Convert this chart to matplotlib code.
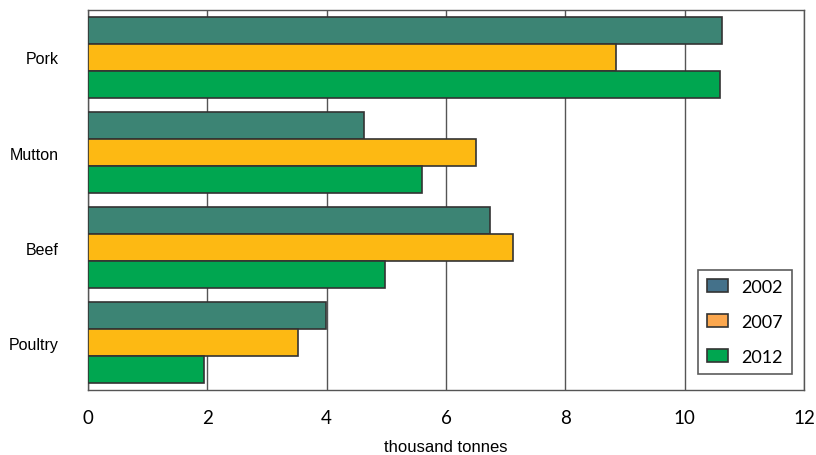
import matplotlib
matplotlib.use('Agg')
import matplotlib.pyplot as plt
import numpy as np
from matplotlib.patches import Patch

# data
categories = ['Pork', 'Mutton', 'Beef', 'Poultry']
years = ['2002', '2007', '2012']
values_2002 = [10.63, 4.63, 6.74, 3.99]
values_2007 = [8.85, 6.50, 7.12, 3.52]
values_2012 = [10.59, 5.60, 4.98, 1.94]
x_ticks = [0, 2, 4, 6, 8, 10, 12]

bar_colors = ['#3C8474', '#FDB913', '#00A650']
legend_colors = ['#44718A', '#FBA74E', '#00A650']

fig = plt.figure(figsize=(8.16, 4.56), dpi=100)
ax = fig.add_axes([0.1078, 0.1425, 0.8775, 0.8334])

pos = np.arange(len(categories))
h = 0.284
series = [values_2002, values_2007, values_2012]
for i, vals in enumerate(series):
    ax.barh(pos + (i - 1) * h, vals, height=h, color=bar_colors[i],
            edgecolor='#333333', linewidth=1.2, zorder=3)

ax.set_ylim(3.5, -0.5)
ax.set_xlim(0, 12)
ax.set_xticks(x_ticks)
ax.set_xticklabels([str(t) for t in x_ticks], family='Lato', fontsize=13.5)
ax.set_yticks(pos)
ax.set_yticklabels(categories, family='Liberation Sans', fontsize=11.5)
ax.tick_params(axis='both', length=0)
ax.tick_params(axis='y', pad=21)
ax.tick_params(axis='x', pad=14)

ax.grid(axis='x', color='#555555', linewidth=1.0, zorder=0)
for s in ax.spines.values():
    s.set_color('#555555')
    s.set_linewidth(1.0)

ax.set_xlabel('thousand tonnes', family='Liberation Sans', fontsize=12, labelpad=9)

handles = [Patch(facecolor=legend_colors[i], edgecolor='#333333', linewidth=1.2, label=years[i])
           for i in range(3)]
leg = ax.legend(handles=handles, loc='lower right', bbox_to_anchor=(0.9832, 0.042),
                borderaxespad=0, prop={'family': 'Lato', 'size': 13}, frameon=True,
                fancybox=False, edgecolor='#333333', labelspacing=1.05, handlelength=1.2,
                handleheight=0.72, handletextpad=0.72, borderpad=0.5)
leg.get_frame().set_linewidth(1.2)

fig.savefig('out.png', dpi=100)
